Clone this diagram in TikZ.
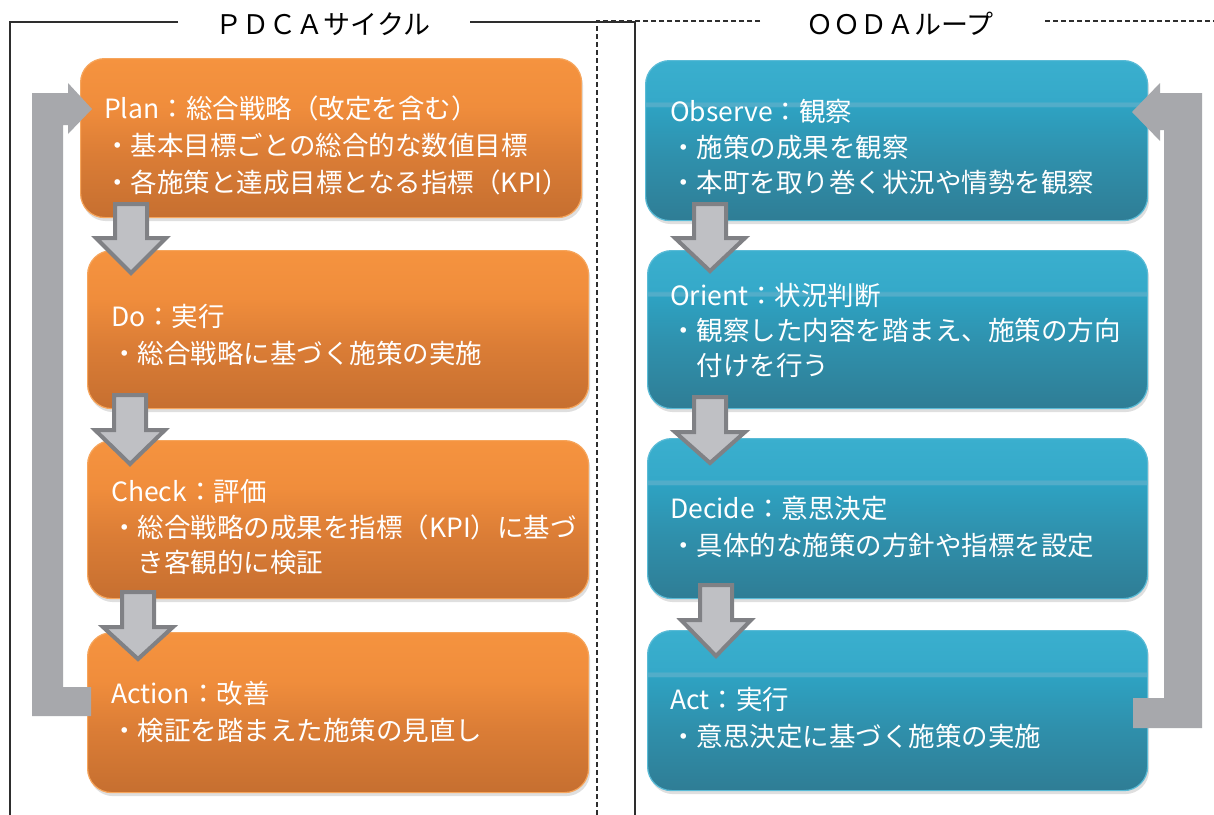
\documentclass[tikz,border=0pt]{standalone}
\usepackage{fontspec}
\setmainfont{Noto Sans CJK JP}
\usetikzlibrary{shadows}
\definecolor{orB}{HTML}{C66F30}
\definecolor{orM1}{HTML}{DB7D36}
\definecolor{orM2}{HTML}{F08D3C}
\definecolor{orT}{HTML}{F5933F}
\definecolor{orE}{HTML}{F6A55C}
\definecolor{blB}{HTML}{2F7D95}
\definecolor{blM1}{HTML}{2F90AC}
\definecolor{blM2}{HTML}{2EA2C2}
\definecolor{blH}{HTML}{52ADC9}
\definecolor{blM3}{HTML}{35A9C9}
\definecolor{blT}{HTML}{3AAFCE}
\definecolor{blE}{HTML}{5ABBD6}
\definecolor{loopgray}{HTML}{A7A8AC}
\definecolor{arrfill}{HTML}{BFC0C4}
\definecolor{arredge}{HTML}{808185}
\definecolor{framec}{HTML}{2E2E2E}
\pgfdeclareverticalshading{orsh}{100bp}{color(0bp)=(orB); color(25bp)=(orB); color(45bp)=(orM1); color(60bp)=(orM2); color(75bp)=(orT); color(100bp)=(orT)}
\pgfdeclareverticalshading{blsh}{100bp}{color(0bp)=(blB); color(25bp)=(blB); color(45bp)=(blM1); color(60.4bp)=(blM2); color(60.8bp)=(blH); color(61.8bp)=(blH); color(62.3bp)=(blM3); color(75bp)=(blT); color(100bp)=(blT)}
\newcommand\dnarrow[4]{\draw[darrow] ({#1-16},{#2+2}) -- ({#1+16},{#2+2}) -- ({#1+16},#3) -- ({#1+35},#3) -- (#1,{#4-4}) -- ({#1-35},#3) -- ({#1-16},#3) -- cycle;}
\tikzset{
  boxbase/.style={rounded corners=24pt, anchor=north west, inner sep=0pt, shade,
    drop shadow={opacity=0.25, shadow xshift=1.5pt, shadow yshift=-3.5pt}, line width=1.2pt},
  obox/.style={boxbase, shading=orsh, draw=orE},
  bbox/.style={boxbase, shading=blsh, draw=blE},
  txt/.style={anchor=base west, inner sep=0pt, text=white, font=\fontsize{26.5pt}{30pt}\selectfont},
  ttl/.style={anchor=base, inner sep=0pt, text=black, font=\fontsize{27pt}{30pt}\selectfont},
  darrow/.style={fill=arrfill, draw=arredge, line width=4pt, line join=miter},
  frameline/.style={draw=framec, line width=1.4pt},
  dashline/.style={draw=framec, line width=1.2pt, dash pattern=on 5pt off 3pt}
}
\begin{document}
\begin{tikzpicture}[x=1pt, y=-1pt]
\useasboundingbox (0,0) rectangle (1214,814);
\fill[white] (0,0) rectangle (1214,814);
% frames
\draw[frameline] (178,22) -- (10,22) -- (10,820);
\draw[frameline] (470,22) -- (635,22) -- (635,820);
\draw[dashline] (760,21) -- (597,21) -- (597,820);
\draw[dashline] (1045,21) -- (1220,21);
\node[ttl] (tpdca) at (323,34) {ＰＤＣＡサイクル};
\node[ttl] (tooda) at (900,34) {ＯＯＤＡループ};
% PDCA boxes
\node[obox, minimum width=501pt, minimum height=159pt] (plan) at (80,58) {};
\node[obox, minimum width=501pt, minimum height=158pt] (do) at (87,250) {};
\node[obox, minimum width=501pt, minimum height=158pt] (check) at (87,440) {};
\node[obox, minimum width=501pt, minimum height=160pt] (action) at (87,632) {};
% OODA boxes
\node[bbox, minimum width=502pt, minimum height=160pt] (observe) at (645,60) {};
\node[bbox, minimum width=500pt, minimum height=158pt] (orient) at (647,250) {};
\node[bbox, minimum width=500pt, minimum height=160pt] (decide) at (647,438) {};
\node[bbox, minimum width=500pt, minimum height=160pt] (act) at (647,630) {};
% PDCA texts
\node[txt] (pl1) at (104,118) {Plan：総合戦略（改定を含む）};
\node[txt] (pl2) at (104,155) {・基本目標ごとの総合的な数値目標};
\node[txt] (pl3) at (104,192) {・各施策と達成目標となる指標（KPI）};
\node[txt] (do1) at (111,326) {Do：実行};
\node[txt] (do2) at (111,363) {・総合戦略に基づく施策の実施};
\node[txt] (ch1) at (111,501) {Check：評価};
\node[txt] (ch2) at (111,537) {・総合戦略の成果を指標（KPI）に基づ};
\node[txt] (ch3) at (111,572) {　き客観的に検証};
\node[txt] (ac1) at (111,703) {Action：改善};
\node[txt] (ac2) at (111,740) {・検証を踏まえた施策の見直し};
% OODA texts
\node[txt] (ob1) at (670,121) {Observe：観察};
\node[txt] (ob2) at (670,157) {・施策の成果を観察};
\node[txt] (ob3) at (670,192) {・本町を取り巻く状況や情勢を観察};
\node[txt] (or1) at (670,305) {Orient：状況判断};
\node[txt] (or2) at (670,340) {・観察した内容を踏まえ、施策の方向};
\node[txt] (or3) at (670,375) {　付けを行う};
\node[txt] (de1) at (670,518) {Decide：意思決定};
\node[txt] (de2) at (670,555) {・具体的な施策の方針や指標を設定};
\node[txt] (at1) at (670,709) {Act：実行};
\node[txt] (at2) at (670,746) {・意思決定に基づく施策の実施};
% down arrows
\dnarrow{131}{202}{238}{277}
\dnarrow{130}{393}{430}{468}
\dnarrow{138}{590}{627}{663}
\dnarrow{710}{202}{238}{275}
\dnarrow{710}{395}{432}{467}
\dnarrow{716}{583}{620}{660}
% loop arrows
\fill[loopgray] (32,716) -- (32,93) -- (68,93) -- (68,83) -- (92,109) -- (68,134) -- (68,125) -- (63,125) -- (63,687) -- (91,687) -- (91,716) -- cycle;
\fill[loopgray] (1202,728) -- (1202,93) -- (1160,93) -- (1160,83) -- (1132,112) -- (1160,141) -- (1160,130) -- (1164,130) -- (1164,698) -- (1133,698) -- (1133,728) -- cycle;
\end{tikzpicture}
\end{document}
